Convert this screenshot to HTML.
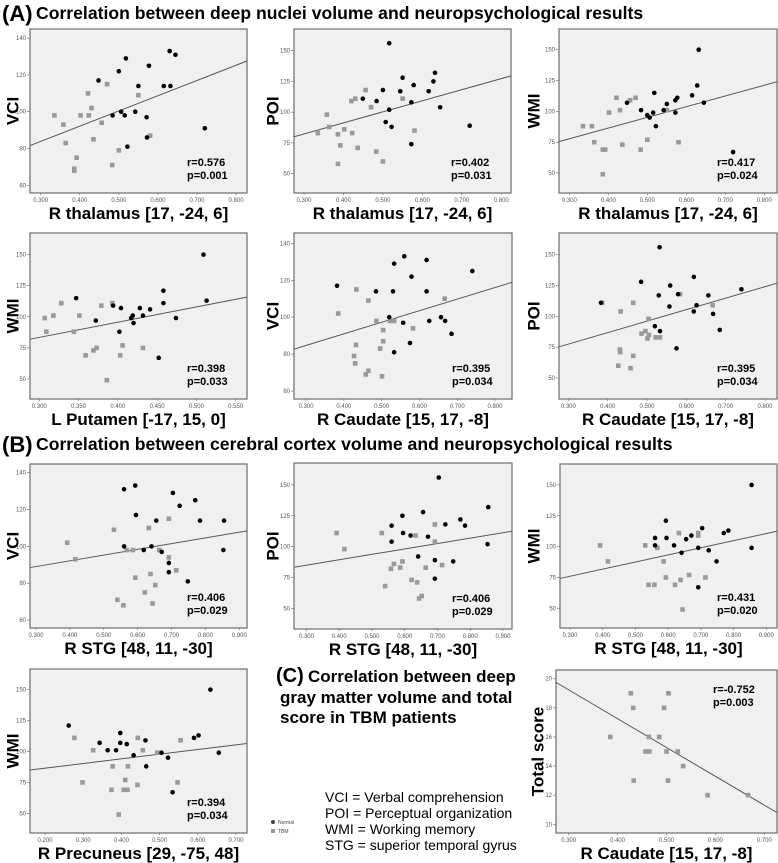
<!DOCTYPE html>
<html><head><meta charset="utf-8"><style>
html,body{margin:0;padding:0;background:#fff;}
svg{display:block;font-family:"Liberation Sans",Arial,sans-serif;}
</style></head><body>
<svg id="fig" width="778" height="863" viewBox="0 0 778 863" xmlns="http://www.w3.org/2000/svg">
<text x="2" y="21" font-size="22" font-weight="bold">(A)</text>
<text x="36" y="19" font-size="17.6" font-weight="bold">Correlation between deep nuclei volume and neuropsychological results</text>
<text x="2" y="452" font-size="22" font-weight="bold">(B)</text>
<text x="36" y="450" font-size="17.6" font-weight="bold">Correlation between cerebral cortex volume and neuropsychological results</text>
<g font-weight="bold">
<text x="276" y="682" font-size="20">(C)</text>
<text x="308" y="682" font-size="17">Correlation between deep</text>
<text x="280" y="703" font-size="17">gray matter volume and total</text>
<text x="280" y="723" font-size="17">score in TBM patients</text>
</g>
<g font-size="14">
<text x="325" y="802">VCI = Verbal comprehension</text>
<text x="325" y="818">POI = Perceptual organization</text>
<text x="325" y="834">WMI = Working memory</text>
<text x="325" y="850">STG = superior temporal gyrus</text>
</g>
<g font-size="5" fill="#444">
<circle cx="273" cy="822" r="2"/>
<text x="278" y="824">Normal</text>
<rect x="271" y="829" width="4" height="4" fill="#999"/>
<text x="278" y="833">TBM</text>
</g>
</svg>
<script>
// ---- data ----
const thalVciNormal=[[0.448,117],[0.500,122],[0.518,129],[0.577,125],[0.630,133],[0.645,131],[0.550,114],[0.615,114],[0.632,114],[0.484,98],[0.506,100],[0.515,98],[0.542,100],[0.571,97],[0.572,86],[0.522,81],[0.720,91]];
const thalVciTbm=[[0.335,98],[0.358,93],[0.364,83],[0.392,75],[0.386,69],[0.386,68],[0.402,98],[0.421,110],[0.423,98],[0.430,102],[0.435,85],[0.456,94],[0.470,115],[0.500,79],[0.483,71],[0.550,109],[0.580,87]];
const thalPoiNormal=[[0.516,156],[0.550,128],[0.632,132],[0.628,125],[0.578,122],[0.500,118],[0.544,117],[0.616,117],[0.449,111],[0.484,109],[0.516,102],[0.572,108],[0.645,104],[0.507,92],[0.522,88],[0.720,89],[0.572,74]];
const thalPoiTbm=[[0.456,118],[0.430,111],[0.420,109],[0.470,104],[0.550,111],[0.358,98],[0.364,88],[0.335,83],[0.402,86],[0.386,82],[0.422,83],[0.392,73],[0.436,71],[0.483,68],[0.500,60],[0.386,58],[0.580,85]];
const thalWmiNormal=[[0.632,150],[0.628,121],[0.615,113],[0.577,111],[0.572,109],[0.518,115],[0.448,107],[0.550,106],[0.645,107],[0.484,101],[0.515,99],[0.542,101],[0.500,97],[0.506,95],[0.572,99],[0.522,88],[0.720,67]];
const thalWmiTbm=[[0.421,111],[0.456,109],[0.470,111],[0.430,101],[0.402,99],[0.335,88],[0.358,88],[0.364,75],[0.386,69],[0.392,69],[0.436,73],[0.483,69],[0.500,77],[0.580,75],[0.386,49],[0.550,101]];
const putWmiNormal=[[0.509,150],[0.458,121],[0.458,111],[0.513,113],[0.347,115],[0.394,109],[0.404,107],[0.428,107],[0.441,106],[0.417,99],[0.419,101],[0.432,101],[0.420,95],[0.372,97],[0.402,88],[0.474,99],[0.452,67]];
const putWmiTbm=[[0.307,99],[0.318,101],[0.328,111],[0.309,88],[0.351,101],[0.344,88],[0.379,109],[0.393,111],[0.359,69],[0.369,73],[0.373,75],[0.403,69],[0.406,77],[0.432,75],[0.386,49]];
const caudVciNormal=[[0.382,117],[0.560,133],[0.533,129],[0.619,131],[0.579,122],[0.740,125],[0.485,114],[0.530,114],[0.619,114],[0.520,100],[0.557,97],[0.626,98],[0.657,100],[0.668,98],[0.685,91],[0.575,86],[0.533,81]];
const caudVciTbm=[[0.433,115],[0.465,109],[0.385,102],[0.486,98],[0.522,98],[0.533,98],[0.504,93],[0.583,94],[0.667,110],[0.504,87],[0.496,83],[0.432,85],[0.427,79],[0.430,75],[0.465,71],[0.458,69],[0.501,68]];
const caudPoiNormal=[[0.532,156],[0.485,128],[0.559,125],[0.619,132],[0.740,122],[0.579,118],[0.530,117],[0.656,117],[0.383,111],[0.557,108],[0.626,109],[0.619,104],[0.668,102],[0.685,89],[0.520,92],[0.533,88],[0.575,74]];
const caudPoiTbm=[[0.386,111],[0.465,111],[0.433,104],[0.504,98],[0.584,118],[0.667,109],[0.486,86],[0.496,88],[0.505,85],[0.501,82],[0.522,83],[0.533,83],[0.431,73],[0.432,71],[0.465,68],[0.427,60],[0.458,58]];
const stgVciNormal=[[0.560,131],[0.593,133],[0.595,117],[0.704,129],[0.724,122],[0.770,125],[0.655,114],[0.784,114],[0.855,114],[0.560,100],[0.618,98],[0.641,100],[0.671,97],[0.692,91],[0.692,86],[0.748,81],[0.853,98]];
const stgVciTbm=[[0.392,102],[0.416,93],[0.530,109],[0.567,98],[0.586,98],[0.633,110],[0.692,115],[0.664,98],[0.692,94],[0.714,87],[0.593,83],[0.638,85],[0.652,79],[0.621,75],[0.540,71],[0.558,68],[0.644,69]];
const stgPoiNormal=[[0.704,156],[0.855,132],[0.656,128],[0.593,125],[0.770,122],[0.724,118],[0.784,117],[0.560,117],[0.595,111],[0.618,109],[0.671,108],[0.560,104],[0.853,102],[0.641,92],[0.692,89],[0.748,88],[0.692,74]];
const stgPoiTbm=[[0.392,111],[0.416,98],[0.530,111],[0.633,109],[0.692,118],[0.692,104],[0.593,88],[0.567,86],[0.558,82],[0.586,83],[0.664,83],[0.714,85],[0.621,73],[0.638,71],[0.540,68],[0.644,58],[0.652,60]];
const stgWmiNormal=[[0.855,150],[0.593,121],[0.704,115],[0.784,113],[0.770,111],[0.671,109],[0.560,107],[0.595,107],[0.655,106],[0.560,101],[0.618,101],[0.692,99],[0.855,99],[0.724,97],[0.641,95],[0.748,88],[0.692,67]];
const stgWmiTbm=[[0.392,101],[0.416,88],[0.530,101],[0.567,99],[0.633,111],[0.692,111],[0.692,109],[0.586,88],[0.593,75],[0.664,77],[0.714,75],[0.540,69],[0.558,69],[0.621,69],[0.638,73],[0.644,49]];
const precWmiNormal=[[0.262,121],[0.633,150],[0.590,111],[0.602,113],[0.655,99],[0.343,107],[0.364,101],[0.386,101],[0.397,115],[0.397,107],[0.414,106],[0.432,97],[0.463,109],[0.465,88],[0.505,99],[0.522,95],[0.534,67]];
const precWmiTbm=[[0.277,111],[0.326,101],[0.298,75],[0.377,88],[0.417,88],[0.443,111],[0.456,101],[0.494,99],[0.555,109],[0.410,77],[0.442,73],[0.374,69],[0.406,69],[0.416,69],[0.547,75],[0.393,49]];
const caudTotalTbm=[[0.427,19],[0.504,19],[0.432,18],[0.495,18],[0.385,16],[0.464,16],[0.485,16],[0.457,15],[0.465,15],[0.500,15],[0.523,15],[0.534,14],[0.433,13],[0.503,13],[0.584,12],[0.667,12]];
// regression fits: y value at left and right edge of x domain
const fitThalVci=[81.6,127.6], fitThalPoi=[80,129.5], fitThalWmi=[75.5,124];
const fitPutWmi=[82,115.8], fitCaudVci=[82.7,118.9], fitCaudPoi=[75.3,126.9];
const fitStgVci=[88.5,108.4], fitStgPoi=[83.3,112.5], fitStgWmi=[74.2,112.5];
const fitPrecWmi=[85,106.5], fitCaudTotal=[19.75,10.8];
// tick labels
const ticksX38=[0.3,0.4,0.5,0.6,0.7,0.8];
const ticksX39=[0.3,0.4,0.5,0.6,0.7,0.8,0.9];
const ticksXPut=[0.30,0.35,0.40,0.45,0.50,0.55];
const ticksXPrec=[0.2,0.3,0.4,0.5,0.6,0.7];
const ticksXC=[0.3,0.4,0.5,0.6,0.7];
const ticksVci=[60,80,100,120,140];
const ticksPw=[50,75,100,125,150];
const ticksTotal=[10,12,14,16,18,20];
const stats=[["r=0.576","p=0.001"],["r=0.402","p=0.031"],["r=0.417","p=0.024"],["r=0.398","p=0.033"],["r=0.395","p=0.034"],["r=0.395","p=0.034"],["r=0.406","p=0.029"],["r=0.406","p=0.029"],["r=0.431","p=0.020"],["r=0.394","p=0.034"],["r=-0.752","p=0.003"]];

const charts=[
 {name:'thalamus-vci',box:[30,29,217,164],xd:[0.2726,0.828],yd:[55.8,145],xt:ticksX38,yt:ticksVci,n:thalVciNormal,t:thalVciTbm,fit:fitThalVci,xl:'R thalamus [17, -24, 6]',yl:'VCI',ylx:13},
 {name:'thalamus-poi',box:[294,29,217,164],xd:[0.2746,0.8247],yd:[34.3,167.6],xt:ticksX38,yt:ticksPw,n:thalPoiNormal,t:thalPoiTbm,fit:fitThalPoi,xl:'R thalamus [17, -24, 6]',yl:'POI',ylx:273},
 {name:'thalamus-wmi',box:[559,29,218,164],xd:[0.2736,0.8326],yd:[33.8,166.8],xt:ticksX38,yt:ticksPw,n:thalWmiNormal,t:thalWmiTbm,fit:fitThalWmi,xl:'R thalamus [17, -24, 6]',yl:'WMI',ylx:534},
 {name:'putamen-wmi',box:[30,233,217,166],xd:[0.2882,0.5644],yd:[33.9,167.4],xt:ticksXPut,yt:ticksPw,n:putWmiNormal,t:putWmiTbm,fit:fitPutWmi,xl:'L Putamen [-17, 15, 0]',yl:'WMI',ylx:13},
 {name:'caudate-vci',box:[294,233,218,166],xd:[0.268,0.845],yd:[55.7,145.6],xt:ticksX38,yt:ticksVci,n:caudVciNormal,t:caudVciTbm,fit:fitCaudVci,xl:'R Caudate [15, 17, -8]',yl:'VCI',ylx:273},
 {name:'caudate-poi',box:[559,233,218,166],xd:[0.2763,0.8305],yd:[33,167.6],xt:ticksX38,yt:ticksPw,n:caudPoiNormal,t:caudPoiTbm,fit:fitCaudPoi,xl:'R Caudate [15, 17, -8]',yl:'POI',ylx:534},
 {name:'stg-vci',box:[30,464,217,164],xd:[0.2823,0.9227],yd:[55.7,144.7],xt:ticksX39,yt:ticksVci,n:stgVciNormal,t:stgVciTbm,fit:fitStgVci,xl:'R STG [48, 11, -30]',yl:'VCI',ylx:13},
 {name:'stg-poi',box:[294,463,218,166],xd:[0.262,0.9275],yd:[33.2,167.8],xt:ticksX39,yt:ticksPw,n:stgPoiNormal,t:stgPoiTbm,fit:fitStgPoi,xl:'R STG [48, 11, -30]',yl:'POI',ylx:273},
 {name:'stg-wmi',box:[560,464,217,164],xd:[0.2694,0.9327],yd:[34,167],xt:ticksX39,yt:ticksPw,n:stgWmiNormal,t:stgWmiTbm,fit:fitStgWmi,xl:'R STG [48, 11, -30]',yl:'WMI',ylx:534},
 {name:'precuneus-wmi',box:[30,669,217,164],xd:[0.1607,0.7288],yd:[34.1,166.7],xt:ticksXPrec,yt:ticksPw,n:precWmiNormal,t:precWmiTbm,fit:fitPrecWmi,xl:'R Precuneus [29, -75, 48]',yl:'WMI',ylx:13},
 {name:'caudate-total-score',box:[556,670,221,163],xd:[0.274,0.726],yd:[9.4,20.6],xt:ticksXC,yt:ticksTotal,n:[],t:caudTotalTbm,fit:fitCaudTotal,xl:'R Caudate [15, 17, -8]',yl:'Total score',ylx:538,statTop:true}
];

const NS='http://www.w3.org/2000/svg';
const svg=document.getElementById('fig');
function mk(tag,attrs,parent){const e=document.createElementNS(NS,tag);for(const k in attrs)e.setAttribute(k,attrs[k]);parent.appendChild(e);return e;}

charts.forEach((c,ci)=>{
  const [bx,by,bw,bh]=c.box;
  const sx=v=>bx+(v-c.xd[0])/(c.xd[1]-c.xd[0])*bw;
  const sy=v=>by+bh-(v-c.yd[0])/(c.yd[1]-c.yd[0])*bh;
  const g=mk('g',{},svg);
  
  
  const bg=mk('rect',{x:bx,y:by,width:bw,height:bh,fill:'#f0f0f0',stroke:'#777','stroke-width':1.3},g);
  
  
  c.xt.forEach(v=>{
    const x=sx(v);
    const tk=mk('line',{x1:x,x2:x,y1:by+bh,y2:by+bh+2,stroke:'#666','stroke-width':0.6},g);
    
    
    const t=mk('text',{x:x,y:by+bh+9,'font-size':6,'text-anchor':'middle',fill:'#555'},g);
    
    
    t.textContent=v.toFixed(3);
  });
  c.yt.forEach(v=>{
    const y=sy(v);
    const tk=mk('line',{x1:bx-3,x2:bx,y1:y,y2:y,stroke:'#666','stroke-width':0.6},g);
    
    
    const t=mk('text',{x:bx-4,y:y+2,'font-size':6,'text-anchor':'end',fill:'#555'},g);
    
    
    t.textContent=v;
  });
  const fl=mk('line',{x1:sx(c.xd[0]),y1:sy(c.fit[0]),x2:sx(c.xd[1]),y2:sy(c.fit[1]),stroke:'#555','stroke-width':1},g);
  
  
  c.t.forEach(p=>{
    const r=mk('rect',{x:sx(p[0])-2.3,y:sy(p[1])-2.3,width:4.6,height:4.6,fill:'#999'},g);
    
    
  });
  c.n.forEach(p=>{
    const d=mk('circle',{cx:sx(p[0]),cy:sy(p[1]),r:2.3,fill:'#000'},g);
    
    
  });
  const sxp=c.statTop?bx+bw-64:bx+bw-60;
  const sy1=c.statTop?by+23:by+bh-27;
  const s1=mk('text',{x:sxp,y:sy1,'font-size':11,'font-weight':'bold'},g);
  
  
  s1.textContent=stats[ci][0];
  const s2=mk('text',{x:sxp,y:sy1+13,'font-size':11,'font-weight':'bold'},g);
  
  
  s2.textContent=stats[ci][1];
  const xl=mk('text',{x:bx+bw/2,y:by+bh+26,'font-size':17,'font-weight':'bold','text-anchor':'middle'},g);
  
  
  xl.textContent=c.xl;
  const cy=by+bh/2;
  const yl=mk('text',{x:c.ylx,y:cy,'font-size':17,'font-weight':'bold','text-anchor':'middle','dominant-baseline':'central',transform:`rotate(-90 ${c.ylx} ${cy})`},g);
  
  
  yl.textContent=c.yl;
});
</script>
</body></html>
